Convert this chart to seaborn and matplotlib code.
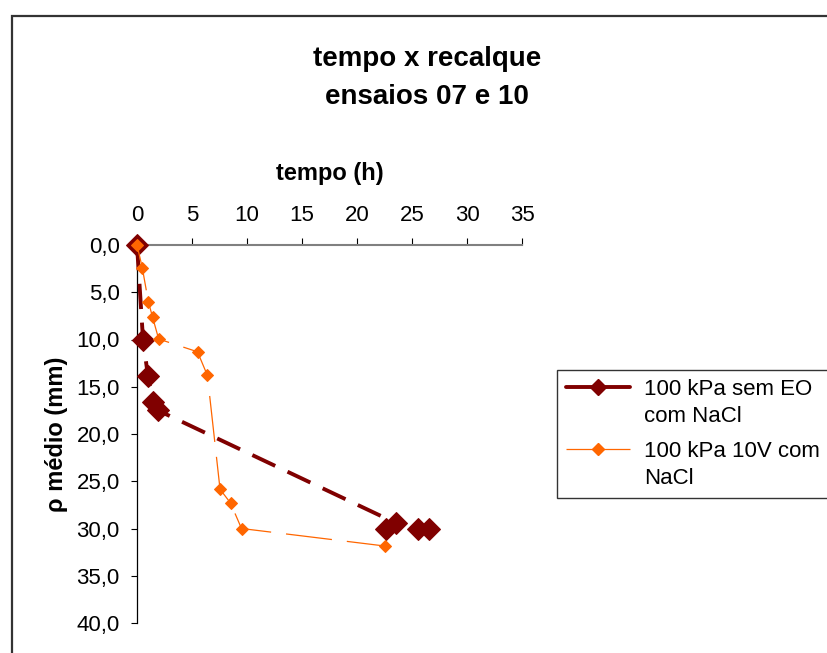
import matplotlib
matplotlib.use("Agg")
import matplotlib.pyplot as plt
from matplotlib.lines import Line2D
from matplotlib.patches import Rectangle
from matplotlib.ticker import FuncFormatter
import seaborn as sns
import pandas as pd

# ---- data ----
sem_eo_tempo = [0.0, 0.55, 1.0, 1.45, 1.9, 23.5, 22.6, 25.5, 26.5]
sem_eo_recalque = [0.0, 10.05, 13.9, 16.6, 17.5, 29.4, 30.0, 30.0, 30.0]

v10_tempo = [0.0, 0.48, 1.03, 1.42, 1.97, 5.5, 6.4, 7.55, 8.5, 9.5, 22.5]
v10_recalque = [0.0, 2.4, 6.0, 7.65, 9.95, 11.3, 13.8, 25.85, 27.3, 30.0, 31.85]

series_labels = ["100 kPa sem EO\ncom NaCl", "100 kPa 10V com\nNaCl"]
x_ticks = [0, 5, 10, 15, 20, 25, 30, 35]
y_ticks = [0, 5, 10, 15, 20, 25, 30, 35, 40]

title = "tempo x recalque\nensaios 07 e 10"
x_label = "tempo (h)"
y_label = "ρ médio (mm)"

dark_red = "#800000"
orange = "#FF6600"

sns.set_theme(style="white")
plt.rcParams["font.family"] = ["Liberation Sans", "DejaVu Sans"]
plt.rcParams["text.color"] = "black"
plt.rcParams["axes.labelcolor"] = "black"
plt.rcParams["xtick.color"] = "black"
plt.rcParams["ytick.color"] = "black"

df1 = pd.DataFrame({"tempo": sem_eo_tempo, "recalque": sem_eo_recalque})
df2 = pd.DataFrame({"tempo": v10_tempo, "recalque": v10_recalque})

fig = plt.figure(figsize=(8.27, 6.53), dpi=100)
ax = fig.add_axes([137 / 827, 1 - 623 / 653, 385 / 827, 378 / 653])

sns.lineplot(data=df1, x="tempo", y="recalque", ax=ax, sort=False, estimator=None,
             color=dark_red, lw=2.8, linestyle=(0, (6.5, 3.5)),
             marker="D", markersize=11, markeredgecolor=dark_red,
             markerfacecolor=dark_red, zorder=3, clip_on=False)
sns.lineplot(data=df2, x="tempo", y="recalque", ax=ax, sort=False, estimator=None,
             color=orange, lw=0.9, linestyle=(0, (37, 12)),
             marker="D", markersize=6.5, markeredgecolor=orange,
             markerfacecolor=orange, zorder=4, clip_on=False)

ax.set_xlim(0, 35)
ax.set_ylim(40, 0)
ax.xaxis.tick_top()
ax.xaxis.set_label_position("top")
ax.set_xticks(x_ticks)
ax.set_yticks(y_ticks)
ax.yaxis.set_major_formatter(FuncFormatter(lambda v, p: f"{v:.1f}".replace(".", ",")))

ax.tick_params(axis="x", which="both", direction="out", length=5, width=0.8,
               color="black", labelcolor="black", labelsize=16, pad=9,
               top=True, bottom=False)
ax.tick_params(axis="y", which="both", direction="out", length=4.5, width=0.8,
               color="black", labelcolor="black", labelsize=16, pad=8,
               left=True, right=False)

for s in ["right", "bottom"]:
    ax.spines[s].set_visible(False)
ax.spines["top"].set_color("#808080")
ax.spines["top"].set_linewidth(1.5)
ax.spines["left"].set_color("black")
ax.spines["left"].set_linewidth(0.9)
ax.grid(False)

ax.set_xlabel(x_label, fontsize=17, fontweight="bold", labelpad=18, color="black")
ax.set_ylabel(y_label, fontsize=17, fontweight="bold", labelpad=6, color="black")

fig.text(427 / 827, 1 - 78 / 653, title, ha="center", va="center",
         fontsize=20, fontweight="bold", linespacing=1.65, color="black")

handles = [
    Line2D([], [], color=dark_red, lw=2.8, marker="D", markersize=8,
           markerfacecolor=dark_red, markeredgecolor=dark_red),
    Line2D([], [], color=orange, lw=0.9, linestyle=(0, (23, 7)), marker="D",
           markersize=6, markerfacecolor=orange, markeredgecolor=orange),
]
leg = fig.legend(handles, series_labels, loc="upper left",
                 bbox_to_anchor=(557 / 827, 1 - 370 / 653),
                 bbox_transform=fig.transFigure, fontsize=16, frameon=True,
                 fancybox=False, edgecolor="black", borderpad=0.4,
                 handlelength=2.9, handletextpad=0.6, labelspacing=0.65,
                 borderaxespad=0)
leg.get_frame().set_linewidth(1.0)
for t in leg.get_texts():
    t.set_linespacing(1.38)
    t.set_color("black")
for col in leg._legend_handle_box.get_children():
    for row in col.get_children():
        row.align = "top"

border = Rectangle((11.5 / 827, -0.2), 1.2, 1 - 16 / 653 + 0.2,
                   transform=fig.transFigure, fill=False,
                   edgecolor="#333333", lw=1.6, clip_on=False)
fig.patches.append(border)

fig.savefig("out.png", dpi=100)
